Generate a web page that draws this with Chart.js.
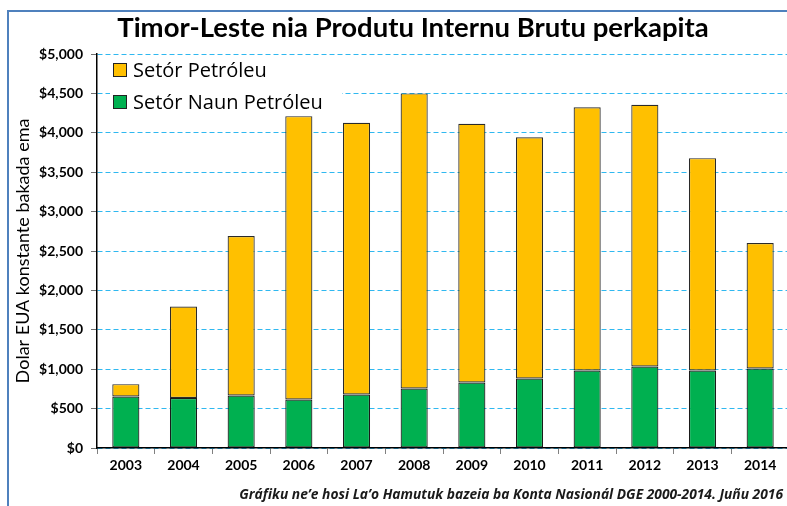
<!DOCTYPE html>
<html>
<head>
<meta charset="utf-8">
<script src="https://cdn.jsdelivr.net/npm/chart.js@4"></script>
<style>
html,body{margin:0;padding:0;background:#fff;overflow:hidden;}
#wrap{width:787px;height:506px;overflow:hidden;position:relative;}
canvas{display:block;}
</style>
</head>
<body>
<div id="wrap"><canvas id="c" width="800" height="506"></canvas></div>
<script>
const titleText = "Timor-Leste nia Produtu Internu Brutu perkapita";
const footnoteText = "Gráfiku ne’e hosi La’o Hamutuk bazeia ba Konta Nasionál DGE 2000-2014. Juñu 2016";
const yAxisTitle = "Dolar EUA konstante bakada ema";
const years = ["2003","2004","2005","2006","2007","2008","2009","2010","2011","2012","2013","2014"];
const nonPetroleum = [654, 635, 666, 615, 679, 755, 831, 882, 983, 1034, 983, 1009];
const petroleum = [156, 1161, 2024, 3596, 3448, 3745, 3283, 3062, 3342, 3321, 2695, 1592];
const labelNonPetroleum = "Setór Naun Petróleu";
const labelPetroleum = "Setór Petróleu";

const FONT = "Lato";
const FONT2 = "'Open Sans'";

const decor = {
  id: 'decor',
  beforeDraw(chart) {
    const ctx = chart.ctx;
    ctx.save();
    ctx.strokeStyle = '#4f81bd';
    ctx.lineWidth = 2;
    ctx.beginPath();
    ctx.moveTo(8, 520);
    ctx.lineTo(8, 11);
    ctx.lineTo(820, 11);
    ctx.stroke();
    ctx.restore();
  },
  afterDraw(chart) {
    const ctx = chart.ctx;
    ctx.save();
    // title
    ctx.fillStyle = '#000';
    ctx.font = `bold 27.5px ${FONT}`;
    ctx.textAlign = 'center';
    ctx.textBaseline = 'alphabetic';
    ctx.fillText(titleText, 413, 37);
    // footnote
    ctx.font = `italic bold 13.8px ${FONT2}`;
    ctx.textAlign = 'right';
    ctx.fillStyle = '#1a1a1a';
    ctx.fillText(footnoteText, 783, 499);
    // legend (reverse order: petroleum on top)
    const items = chart.data.datasets.slice().reverse();
    ctx.fillStyle = '#fff';
    ctx.fillRect(110, 57, 232, 58);
    ctx.font = `20px ${FONT2}`;
    ctx.textAlign = 'left';
    ctx.textBaseline = 'alphabetic';
    items.forEach((ds, i) => {
      const y = 63.5 + i * 32;
      ctx.fillStyle = ds.backgroundColor;
      ctx.fillRect(113.5, y, 13, 13);
      ctx.strokeStyle = '#222';
      ctx.lineWidth = 1;
      ctx.strokeRect(113.5, y, 13, 13);
      ctx.fillStyle = '#000';
      ctx.fillText(ds.label, 133, y + 13);
    });
    ctx.restore();
  }
};

new Chart(document.getElementById('c'), {
  type: 'bar',
  data: {
    labels: years,
    datasets: [
      { label: labelNonPetroleum, data: nonPetroleum, backgroundColor: '#00b050', borderColor: '#1a1a1a', borderWidth: 1.2, borderSkipped: false },
      { label: labelPetroleum, data: petroleum, backgroundColor: '#ffc000', borderColor: '#2a2a2a', borderWidth: 1.2, borderSkipped: false }
    ]
  },
  options: {
    responsive: false,
    animation: false,
    devicePixelRatio: 1,
    layout: { padding: { top: 54, right: 11, bottom: 28, left: 0 } },
    datasets: { bar: { categoryPercentage: 1, barPercentage: 0.47 } },
    plugins: {
      legend: { display: false },
      title: { display: false },
      tooltip: { enabled: false }
    },
    scales: {
      x: {
        stacked: true,
        afterFit(s) { s.height = 30; },
        grid: { display: true, drawOnChartArea: false, drawTicks: true, tickLength: 6, color: '#808080', tickColor: '#808080', offset: true },
        border: { display: true, color: '#000', width: 1.5 },
        ticks: { color: '#000', font: { family: FONT, size: 14, weight: 'bold' }, padding: 3, maxRotation: 0 }
      },
      y: {
        stacked: true,
        min: 0, max: 5000,
        afterFit(s) { s.width = 97; },
        grid: { color: '#2fb8f0', lineWidth: 1, tickColor: '#707070', tickLength: 6, tickBorderDash: [] },
        border: { display: true, color: '#000', width: 1.5, dash: [5, 3] },
        ticks: {
          stepSize: 500,
          color: '#000',
          padding: 8,
          font: { family: FONT, size: 14, weight: 'bold' },
          callback: v => '$' + v.toLocaleString('en-US')
        },
        title: {
          display: true,
          text: yAxisTitle,
          color: '#000',
          font: { family: FONT, size: 18, weight: 'normal' },
          padding: { top: 12, bottom: 0 }
        }
      }
    }
  },
  plugins: [decor]
});
</script>
</body>
</html>
